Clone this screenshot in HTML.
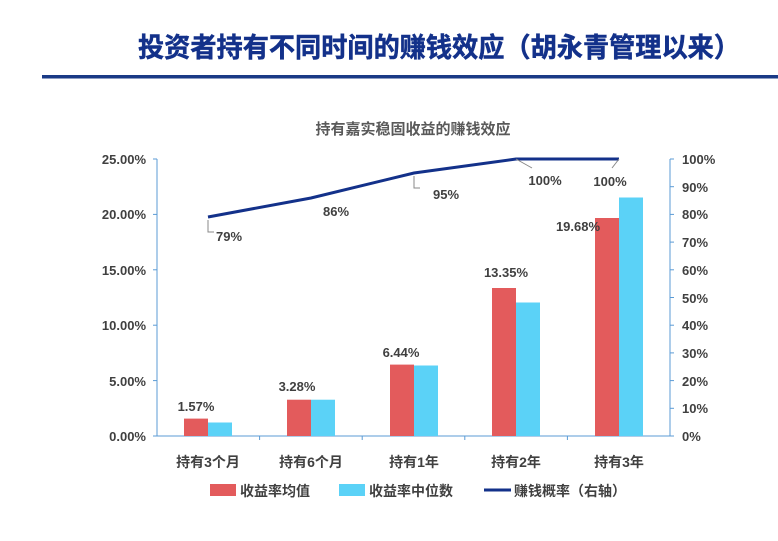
<!DOCTYPE html>
<html><head><meta charset="utf-8"><style>
body{margin:0;background:#fff;width:778px;height:536px;overflow:hidden}
svg text{font-family:"Liberation Sans","Noto Sans CJK SC",sans-serif;font-weight:bold}
</style></head><body>
<svg width="778" height="536" viewBox="0 0 778 536">
<text x="439" y="57" text-anchor="middle" font-size="27" fill="#13318a" stroke="#13318a" stroke-width="0.5" textLength="602" lengthAdjust="spacingAndGlyphs">投资者持有不同时间的赚钱效应（胡永青管理以来）</text>
<rect x="42" y="75" width="736" height="3.5" fill="#1a3a86"/>
<text x="413" y="134" text-anchor="middle" font-size="15" fill="#595959">持有嘉实稳固收益的赚钱效应</text>
<g stroke="#5b9bd5" stroke-width="1" fill="none">
<line x1="157" y1="159" x2="157" y2="436"/>
<line x1="670" y1="159" x2="670" y2="436"/>
<line x1="157" y1="436" x2="670" y2="436"/>
</g>
<g stroke="#5b9bd5">
<line x1="153" y1="159" x2="157" y2="159"/><line x1="153" y1="214.4" x2="157" y2="214.4"/><line x1="153" y1="269.8" x2="157" y2="269.8"/><line x1="153" y1="325.2" x2="157" y2="325.2"/><line x1="153" y1="380.6" x2="157" y2="380.6"/><line x1="153" y1="436" x2="157" y2="436"/>
<line x1="670" y1="159" x2="674" y2="159"/><line x1="670" y1="186.7" x2="674" y2="186.7"/><line x1="670" y1="214.4" x2="674" y2="214.4"/><line x1="670" y1="242.1" x2="674" y2="242.1"/><line x1="670" y1="269.8" x2="674" y2="269.8"/><line x1="670" y1="297.5" x2="674" y2="297.5"/><line x1="670" y1="325.2" x2="674" y2="325.2"/><line x1="670" y1="352.9" x2="674" y2="352.9"/><line x1="670" y1="380.6" x2="674" y2="380.6"/><line x1="670" y1="408.3" x2="674" y2="408.3"/><line x1="670" y1="436" x2="674" y2="436"/>
<line x1="259.6" y1="436" x2="259.6" y2="440"/><line x1="362.2" y1="436" x2="362.2" y2="440"/><line x1="464.8" y1="436" x2="464.8" y2="440"/><line x1="567.4" y1="436" x2="567.4" y2="440"/>
</g>
<g font-size="13" fill="#404040" text-anchor="end">
<text x="146" y="164">25.00%</text><text x="146" y="219">20.00%</text><text x="146" y="275">15.00%</text><text x="146" y="330">10.00%</text><text x="146" y="386">5.00%</text><text x="146" y="441">0.00%</text>
</g>
<g font-size="13" fill="#404040">
<text x="682" y="164">100%</text><text x="682" y="192">90%</text><text x="682" y="219">80%</text><text x="682" y="247">70%</text><text x="682" y="275">60%</text><text x="682" y="303">50%</text><text x="682" y="330">40%</text><text x="682" y="358">30%</text><text x="682" y="386">20%</text><text x="682" y="413">10%</text><text x="682" y="441">0%</text>
</g>
<g fill="#e35b5c">
<rect x="184" y="418.6" width="24" height="17.4"/><rect x="287" y="399.7" width="24" height="36.3"/><rect x="390" y="364.6" width="24" height="71.4"/><rect x="492" y="288" width="24" height="148"/><rect x="595" y="218" width="24" height="218"/>
</g>
<g fill="#5bd2f7">
<rect x="208" y="422.5" width="24" height="13.5"/><rect x="311" y="399.7" width="24" height="36.3"/><rect x="414" y="365.5" width="24" height="70.5"/><rect x="516" y="302.5" width="24" height="133.5"/><rect x="619" y="197.5" width="24" height="238.5"/>
</g>
<polyline points="208,217 311,198 414,173 516,159 619,159" fill="none" stroke="#13318a" stroke-width="3"/>
<g stroke="#888" fill="none" stroke-width="1">
<polyline points="208,220 208,232 214,232"/>
<polyline points="414,176 414,188 420,188"/>
<polyline points="516,159 532,168"/>
<polyline points="619,159 612,168"/>
</g>
<g font-size="13" fill="#404040" text-anchor="middle">
<text x="229" y="241">79%</text><text x="336" y="216">86%</text><text x="446" y="199">95%</text><text x="545" y="185">100%</text><text x="610" y="186">100%</text>
<text x="196" y="411">1.57%</text><text x="297" y="391">3.28%</text><text x="401" y="357">6.44%</text><text x="506" y="277">13.35%</text><text x="578" y="231">19.68%</text>
</g>
<g font-size="14" fill="#404040" text-anchor="middle">
<text x="208" y="467">持有3个月</text><text x="311" y="467">持有6个月</text><text x="414" y="467">持有1年</text><text x="516" y="467">持有2年</text><text x="619" y="467">持有3年</text>
</g>
<rect x="210" y="484" width="26" height="12" fill="#e35b5c"/>
<text x="240" y="496" font-size="14" fill="#404040">收益率均值</text>
<rect x="339" y="484" width="26" height="12" fill="#5bd2f7"/>
<text x="369" y="496" font-size="14" fill="#404040">收益率中位数</text>
<line x1="484" y1="490" x2="511" y2="490" stroke="#13318a" stroke-width="3"/>
<text x="514" y="496" font-size="14" fill="#404040">赚钱概率（右轴）</text>
</svg>
</body></html>
